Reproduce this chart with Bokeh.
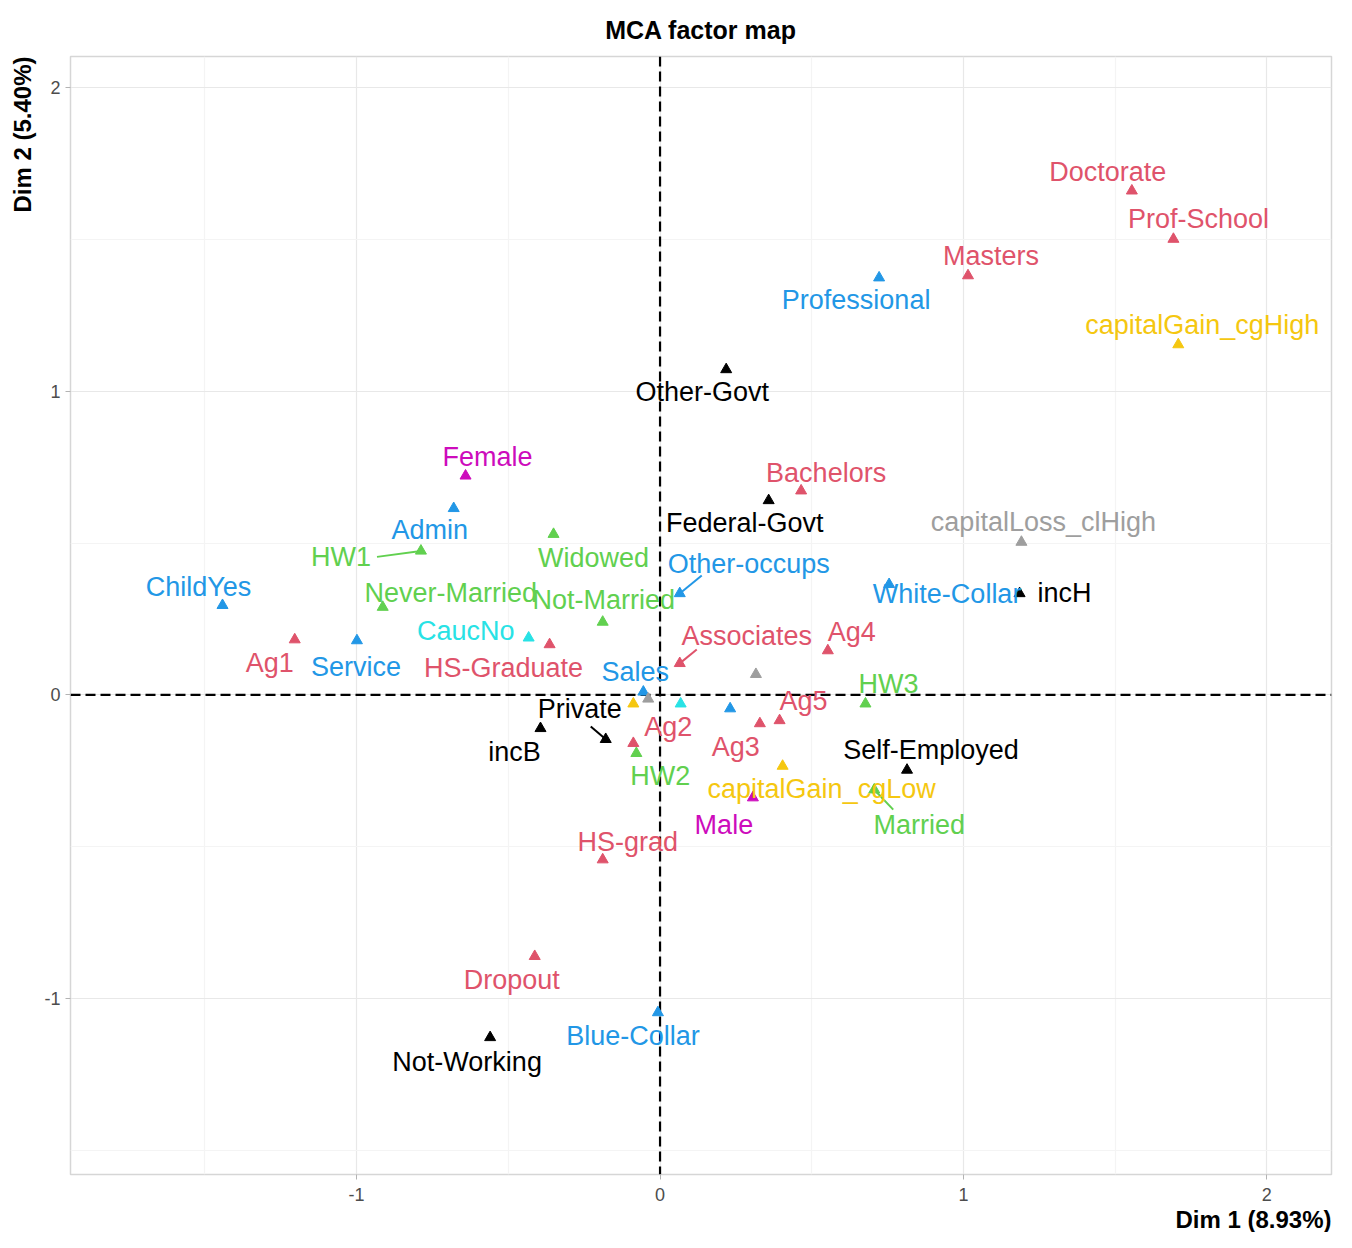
from bokeh.plotting import figure
from bokeh.models import ColumnDataSource, Range1d, FixedTicker, Span, Title
from bokeh.core.properties import value
from bokeh.embed import file_html
from bokeh.resources import INLINE

# ---------------- data ----------------
categories = [
    "Other-Govt", "Federal-Govt", "Private", "Self-Employed", "Not-Working",
    "Doctorate", "Prof-School", "Masters", "Bachelors", "Associates", "HS-Graduate", "HS-grad", "Dropout",
    "Widowed", "Never-Married", "Not-Married", "Married",
    "Professional", "Admin", "Other-occups", "White-Collar", "Service", "Sales", "Blue-Collar",
    "CaucNo", "CaucYes",
    "Female", "Male",
    "capitalGain_cgHigh", "capitalGain_cgLow", "capitalGain_None",
    "capitalLoss_clHigh", "capitalLoss_clLow", "capitalLoss_None",
    "incB", "incH",
    "Ag1", "Ag2", "Ag3", "Ag4", "Ag5",
    "HW1", "HW2", "HW3",
    "ChildYes", "ChildNo",
]
dim1 = [
    0.218, 0.358, -0.179, 0.814, -0.560,
    1.555, 1.692, 1.015, 0.465, 0.065, -0.364, -0.189, -0.413,
    -0.351, -0.914, -0.189, 0.706,
    0.722, -0.680, 0.065, 0.755, -0.999, -0.055, -0.007,
    -0.433, 0.068,
    -0.641, 0.306,
    1.708, 0.404, -0.088,
    1.191, 0.316, -0.039,
    -0.394, 1.185,
    -1.204, -0.088, 0.329, 0.553, 0.394,
    -0.788, -0.078, 0.677,
    -1.442, 0.231,
]
dim2 = [
    1.071, 0.640, -0.146, -0.247, -1.127,
    1.659, 1.500, 1.380, 0.672, 0.104, 0.166, -0.542, -0.860,
    0.529, 0.289, 0.240, -0.312,
    1.373, 0.614, 0.334, 0.364, 0.179, 0.010, -1.045,
    0.188, -0.029,
    0.721, -0.338,
    1.153, -0.234, -0.029,
    0.503, 0.068, -0.013,
    -0.110, 0.334,
    0.182, -0.159, -0.094, 0.146, -0.084,
    0.474, -0.192, -0.029,
    0.295, -0.045,
]
variables = (
    ["workclass"] * 5 + ["education"] * 8 + ["marital"] * 4 + ["occupation"] * 7 +
    ["race"] * 2 + ["sex"] * 2 + ["capitalGain"] * 3 + ["capitalLoss"] * 3 +
    ["income"] * 2 + ["age"] * 5 + ["hours"] * 3 + ["child"] * 2
)
# labels shown on the map ("" = point drawn without a label)
labels = [c for c in categories]
for hidden in ["CaucYes", "capitalGain_None", "capitalLoss_clLow", "capitalLoss_None", "ChildNo"]:
    labels[categories.index(hidden)] = ""

x_ticks = [-1, 0, 1, 2]
y_ticks = [-1, 0, 1, 2]
tick_labels = ["-1", "0", "1", "2"]

# ---------------- styles / layout ----------------
palette = {
    "workclass": "#000000", "education": "#DF536B", "marital": "#61D04F", "occupation": "#2297E6",
    "race": "#28E2E5", "sex": "#CD0BBC", "capitalGain": "#F5C710", "capitalLoss": "#9E9E9E",
    "income": "#000000", "age": "#DF536B", "hours": "#61D04F", "child": "#2297E6",
}
# label offsets from the point, in screen pixels (dx right, dy down)
label_off = {
    "Doctorate": (-24, -19), "Prof-School": (25, -20), "Masters": (23, -20),
    "capitalGain_cgHigh": (24, -20), "Professional": (-23, 22), "Other-Govt": (-24, 22),
    "Female": (22, -19), "Admin": (-24, 22), "Bachelors": (25, -18), "Federal-Govt": (-24, 23),
    "capitalLoss_clHigh": (22, -20), "Widowed": (40, 24), "HW1": (-80, 6),
    "Never-Married": (68, -14), "Not-Married": (1, -22), "ChildYes": (-24, -18),
    "Other-occups": (69, -29), "White-Collar": (58, 10), "incH": (45, 0), "Ag4": (24, -19),
    "Associates": (67, -27), "Ag1": (-25, 23), "Service": (-1, 26), "CaucNo": (-63, -7),
    "HS-Graduate": (-46, 23), "Sales": (-8, -20), "HW3": (23, -20), "Ag5": (24, -19),
    "Ag3": (-24, 23), "Private": (-26, -30), "incB": (-26, 24), "Ag2": (35, -16),
    "HW2": (24, 23), "Self-Employed": (24, -20), "capitalGain_cgLow": (39, 23),
    "Married": (45, 35), "Male": (-29, 27), "HS-grad": (25, -18), "Dropout": (-23, 24),
    "Blue-Collar": (-25, 23), "Not-Working": (-23, 25),
}
# leader segments: end point offset from the point, in pixels
seg_off = {
    "HW1": (-44, 6), "Other-occups": (22, -18), "Associates": (17, -14),
    "Private": (-15, -13), "Married": (19, 20),
}

W, H = 1336, 1232
ML, MR, MT, MB = 69, 5, 54, 52
x0, x1 = -1.943, 2.213
y0, y1 = -1.578, 2.101
fw, fh = W - ML - MR, H - MT - MB
sx = (x1 - x0) / fw
sy = (y1 - y0) / fh

FONT = "Liberation Sans"

p = figure(width=W, height=H, x_range=Range1d(x0, x1), y_range=Range1d(y0, y1),
           output_backend="svg", toolbar_location=None,
           min_border_left=ML, min_border_right=MR, min_border_top=MT, min_border_bottom=MB)

p.title.text = "MCA factor map"
p.title.align = "center"
p.title.text_font = FONT
p.title.text_font_size = "25px"
p.title.text_font_style = "bold"
p.title.text_color = "black"
p.title.standoff = 26

p.add_layout(Title(text="Dim 1 (8.93%)", align="right", text_font=FONT, text_font_size="24px",
                   text_font_style="bold", text_color="black", standoff=0, offset=0), "below")
p.add_layout(Title(text="Dim 2 (5.40%)", align="right", text_font=FONT, text_font_size="24px",
                   text_font_style="bold", text_color="black", standoff=12, offset=0), "left")

p.xaxis.ticker = FixedTicker(ticks=x_ticks, minor_ticks=[-1.5, -0.5, 0.5, 1.5])
p.yaxis.ticker = FixedTicker(ticks=y_ticks, minor_ticks=[-1.5, -0.5, 0.5, 1.5])
p.xaxis.major_label_overrides = {t: l for t, l in zip(x_ticks, tick_labels)}
p.yaxis.major_label_overrides = {t: l for t, l in zip(y_ticks, tick_labels)}
for ax in (p.xaxis, p.yaxis):
    ax.axis_line_color = None
    ax.major_tick_in = 0
    ax.major_tick_out = 5
    ax.major_tick_line_color = "#B3B3B3"
    ax.minor_tick_line_color = None
    ax.major_label_text_font = FONT
    ax.major_label_text_font_size = "18px"
    ax.major_label_text_color = "#4D4D4D"
p.xaxis.major_label_standoff = 8
p.yaxis.major_label_standoff = 5

p.grid.grid_line_color = "#E8E8E8"
p.grid.grid_line_width = 1.2
p.grid.minor_grid_line_color = "#F4F4F4"
p.grid.minor_grid_line_width = 1.2
p.outline_line_color = "#D6D6D6"
p.outline_line_width = 1.5
p.background_fill_color = "white"
p.border_fill_color = "white"

p.add_layout(Span(location=0, dimension="height", line_color="black", line_width=2.2,
                  line_dash="10 5", level="underlay"))
p.add_layout(Span(location=0, dimension="width", line_color="black", line_width=2.2,
                  line_dash="10 5", level="underlay"))

colors = [palette[v] for v in variables]

# leader segments
seg = dict(x0=[], y0=[], x1=[], y1=[], c=[])
for c, xv, yv, col in zip(categories, dim1, dim2, colors):
    if c in seg_off:
        dx, dy = seg_off[c]
        seg["x0"].append(xv); seg["y0"].append(yv)
        seg["x1"].append(xv + dx * sx); seg["y1"].append(yv - dy * sy)
        seg["c"].append(col)
p.segment(x0="x0", y0="y0", x1="x1", y1="y1", line_color="c", line_width=2,
          source=ColumnDataSource(seg))

src = ColumnDataSource(dict(
    x=dim1, y=dim2, label=labels, color=colors,
    dx=[label_off.get(c, (0, 0))[0] for c in categories],
    dy=[label_off.get(c, (0, 0))[1] for c in categories],
))
p.scatter("x", "y", marker="triangle", size=11, fill_color="color", line_color="color", source=src)
p.text("x", "y", text="label", x_offset="dx", y_offset="dy", text_align="center",
       text_baseline="middle", text_color="color", text_font=value(FONT),
       text_font_size="27px", source=src)

open("out.html", "w").write(file_html(p, INLINE))
